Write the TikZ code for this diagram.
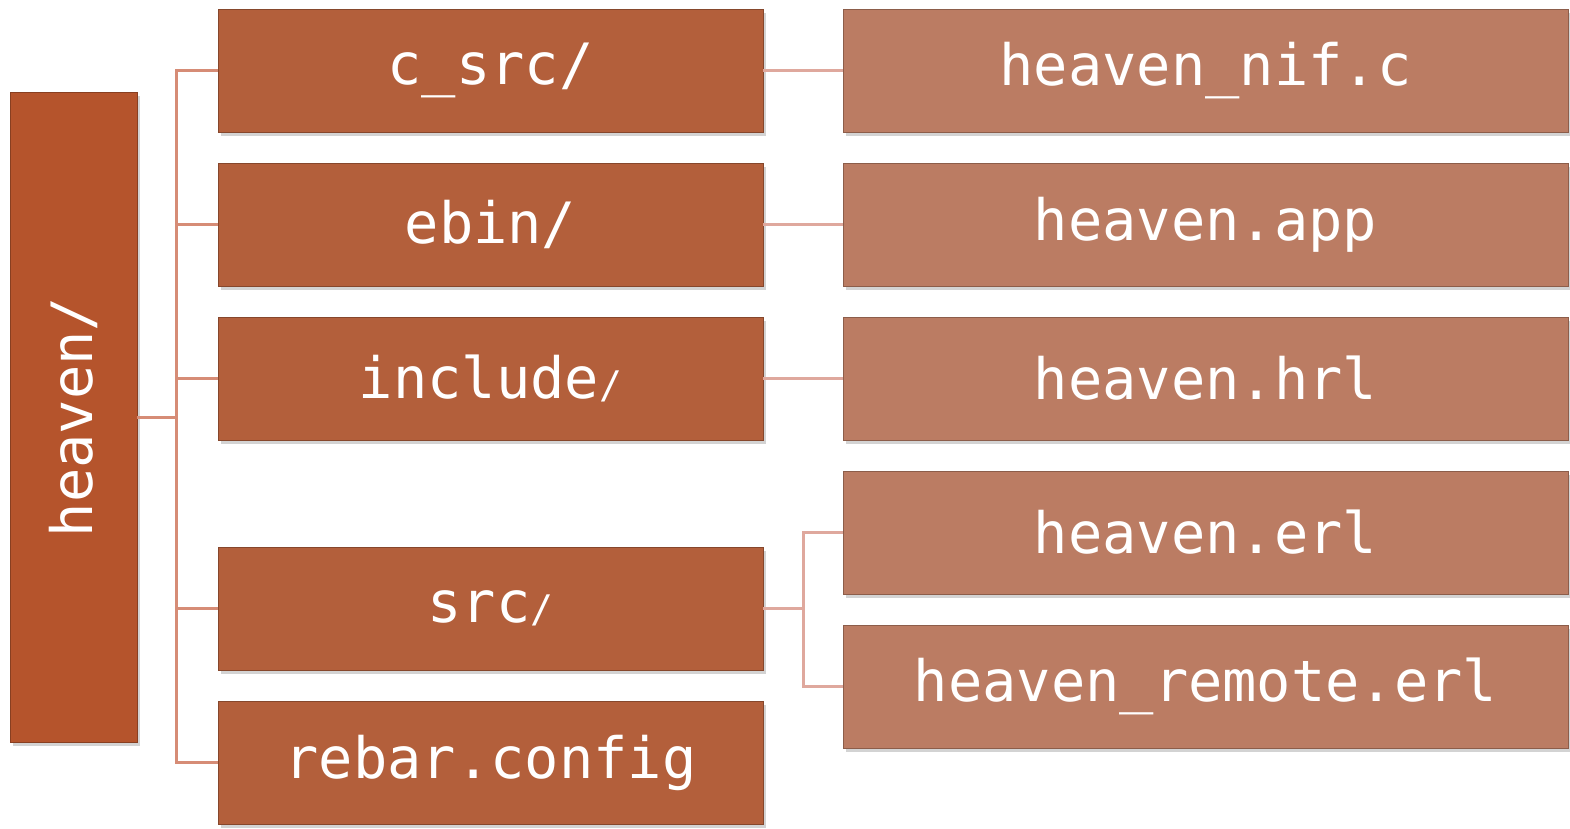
\documentclass[tikz,border=0pt]{standalone}
\usepackage{fontspec}
\usetikzlibrary{shadows}
\newfontfamily\codefont{DejaVu Sans Mono}

\definecolor{rootbrown}{HTML}{B5542C}
\definecolor{dirbrown}{HTML}{B35F3B}
\definecolor{filebrown}{HTML}{BB7C63}
\definecolor{treeline}{HTML}{D68C76}
\definecolor{leafline}{HTML}{DFA89D}

\tikzset{
  box/.style={rectangle, draw=#1!75!black, fill=#1, line width=0.8pt, text=white,
    inner sep=0pt, font=\codefont\fontsize{57}{57}\selectfont,
    drop shadow={shadow xshift=3pt, shadow yshift=-4pt, opacity=0.35}},
  rootbox/.style={box=rootbrown, minimum width=127pt, minimum height=650pt},
  dirbox/.style={box=dirbrown, minimum width=545pt, minimum height=123pt},
  filebox/.style={box=filebrown, minimum width=725pt, minimum height=123pt},
  branch/.style={draw=treeline, line width=3pt},
  twig/.style={draw=leafline, line width=3pt}
}
\newcommand{\smallslash}{{\fontsize{38}{38}\selectfont/}}

\begin{document}
\begin{tikzpicture}[x=1pt, y=-1pt]
    \useasboundingbox (0, 0) rectangle (1570, 828);
    \coordinate (trunk) at (176, 417);
    \coordinate (fork) at (803, 608.5);

    \node[rootbox] (root) at (73.5, 417) {};
    \node[rotate=90, text=white, font=\codefont\fontsize{57}{57}\selectfont] (rootlabel) at (73.5, 417) {heaven/};

    \node[dirbox] (csrc) at (490.5, 70.5) {c\_src/};
    \node[dirbox] (ebin) at (490.5, 224.5) {ebin/};
    \node[dirbox] (incl) at (490.5, 378.5) {include\smallslash};
    \node[dirbox] (src) at (490.5, 608.5) {src\smallslash};
    \node[dirbox] (rebar) at (490.5, 762.5) {rebar.config};

    \node[filebox] (nif) at (1205.5, 70.5) {heaven\_nif.c};
    \node[filebox] (app) at (1205.5, 224.5) {heaven.app};
    \node[filebox] (hrl) at (1205.5, 378.5) {heaven.hrl};
    \node[filebox] (erl) at (1205.5, 532.5) {heaven.erl};
    \node[filebox] (remote) at (1205.5, 686.5) {heaven\_remote.erl};

    % tree from the root folder
    \draw[branch] (root.east) -- (trunk);
    \draw[branch] (trunk) |- (csrc.west);
    \draw[branch] (trunk) |- (ebin.west);
    \draw[branch] (trunk) |- (incl.west);
    \draw[branch] (trunk) |- (src.west);
    \draw[branch] (trunk) |- (rebar.west);

    % folders to their files
    \draw[twig] (csrc.east) -- (nif.west);
    \draw[twig] (ebin.east) -- (app.west);
    \draw[twig] (incl.east) -- (hrl.west);
    \draw[twig] (src.east) -- (fork);
    \draw[twig] (fork) |- (erl.west);
    \draw[twig] (fork) |- (remote.west);
  \end{tikzpicture}
\end{document}
